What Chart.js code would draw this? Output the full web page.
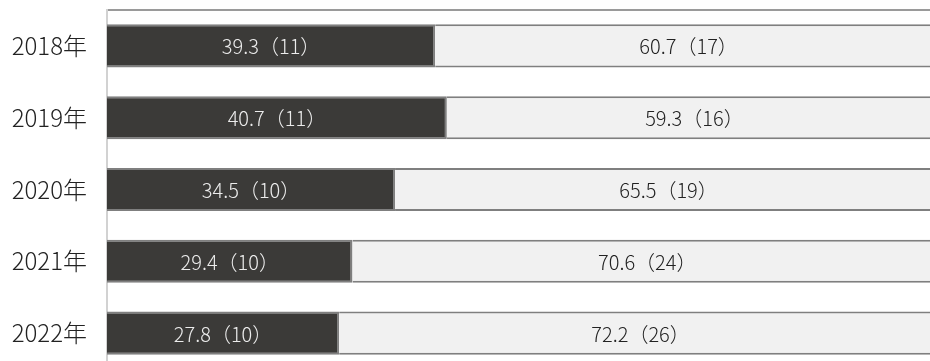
<!DOCTYPE html>
<html lang="ja">
<head>
<meta charset="utf-8">
<script src="https://cdn.jsdelivr.net/npm/chart.js@4/dist/chart.umd.min.js"></script>
<style>
  html, body { margin: 0; padding: 0; background: #fff; overflow: hidden; width: 930px; height: 361px; }
  #wrap { position: relative; width: 942px; height: 369px; }
</style>
</head>
<body>
<div id="wrap"><canvas id="chart" width="942" height="369"></canvas></div>
<script>
const years = ["2018年", "2019年", "2020年", "2021年", "2022年"];
const darkShare = [39.3, 40.7, 34.5, 29.4, 27.8];
const darkCount = [11, 11, 10, 10, 10];
const lightShare = [60.7, 59.3, 65.5, 70.6, 72.2];
const lightCount = [17, 16, 19, 24, 26];

const FONT = "'Noto Sans CJK JP', 'Noto Sans', sans-serif";

// writes "39.3（11）" into the middle of each segment
const barLabels = {
  id: "barLabels",
  afterDatasetsDraw(chart) {
    const ctx = chart.ctx;
    ctx.save();
    ctx.font = `300 20px ${FONT}`;
    ctx.textAlign = "center";
    ctx.textBaseline = "middle";
    chart.data.datasets.forEach((ds, di) => {
      const meta = chart.getDatasetMeta(di);
      meta.data.forEach((bar, i) => {
        const cx = (bar.x + bar.base) / 2;
        ctx.fillStyle = ds.labelColor;
        ctx.fillText(`${ds.data[i]}（${ds.counts[i]}）`, cx, bar.y + 1);
      });
    });
    ctx.restore();
  },
};

new Chart(document.getElementById("chart"), {
  type: "bar",
  data: {
    labels: years,
    datasets: [
      {
        data: darkShare,
        counts: darkCount,
        labelColor: "#ececec",
        backgroundColor: "#3b3a38",
        borderColor: "#7f7f7f",
        borderWidth: 2,
      },
      {
        data: lightShare,
        counts: lightCount,
        labelColor: "#222222",
        backgroundColor: "#f1f1f1",
        borderColor: "#7f7f7f",
        borderWidth: 2,
      },
    ],
  },
  options: {
    indexAxis: "y",
    responsive: false,
    animation: false,
    layout: { padding: 0, autoPadding: false },
    datasets: { bar: { barPercentage: 0.6, categoryPercentage: 1 } },
    plugins: { legend: { display: false }, tooltip: { enabled: false } },
    scales: {
      x: {
        position: "top",
        stacked: true,
        min: 0,
        max: 100,
        grid: { display: false, drawTicks: false },
        ticks: { display: false },
        border: { display: true, color: "#9a9a9a", width: 2 },
        afterFit(scale) {
          scale.height = 10;
          scale.paddingLeft = 0;
          scale.paddingRight = 0;
        },
      },
      y: {
        stacked: true,
        grid: { display: false, drawTicks: false },
        border: { display: true, color: "#d2d2d2", width: 2 },
        ticks: { color: "#222", padding: 20, font: { family: FONT, size: 24, weight: 300 } },
        afterFit(scale) {
          scale.width = 107;
          scale.paddingTop = 0;
          scale.paddingBottom = 0;
        },
      },
    },
  },
  plugins: [barLabels],
});
</script>
</body>
</html>
